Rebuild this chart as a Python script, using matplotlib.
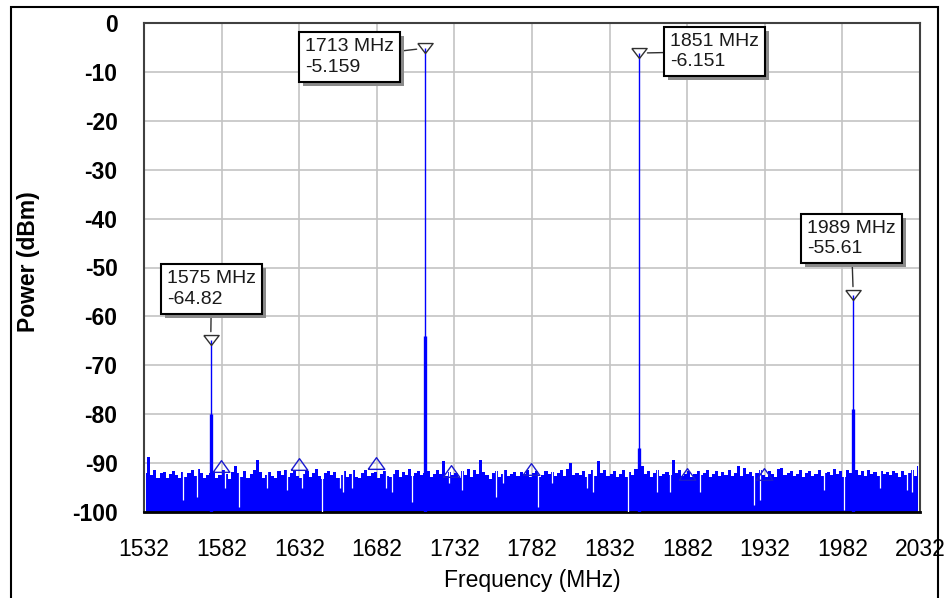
import matplotlib
matplotlib.use("Agg")
import matplotlib.pyplot as plt
import matplotlib.patheffects as pe
from matplotlib.patches import Rectangle
import numpy as np

plt.rcParams['font.family'] = ['Liberation Sans', 'DejaVu Sans']

# Axis ticks
x_ticks = [1532, 1582, 1632, 1682, 1732, 1782, 1832, 1882, 1932, 1982, 2032]
y_ticks = [0, -10, -20, -30, -40, -50, -60, -70, -80, -90, -100]

# Carriers (marked peaks)
carrier_freq = [1575, 1713, 1851, 1989]
carrier_level = [-64.82, -5.159, -6.151, -55.61]
carrier_skirt = [-80, -64, -87, -79]

# Noise floor, read every 2 MHz from 1533 to 2031 MHz
noise_freq = np.arange(1533, 2032, 2)
noise_top = [
    -92.0, -88.8, -92.5, -91.5, -93.0, -92.0, -91.8, -93.0, -92.2, -91.6,
    -92.5, -93.0, -91.9, -92.8, -92.0, -91.5, -92.7, -91.2, -92.0, -93.0,
    -92.5, -92.0, -91.8, -93.0, -92.5, -91.5, -92.2, -93.2, -91.8, -90.5,
    -92.0, -92.8, -91.6, -93.0, -92.3, -91.5, -89.4, -91.9, -93.0, -92.4,
    -91.8, -92.6, -93.1, -91.7, -92.5, -91.4, -92.9, -92.0, -91.5, -92.6,
    -93.0, -92.2, -91.6, -92.8, -92.0, -91.3, -92.7, -93.2, -92.1, -91.7,
    -92.5, -91.8, -93.0, -92.4, -91.6, -92.9, -92.2, -91.5, -92.8, -93.1,
    -92.0, -91.4, -92.7, -92.1, -91.8, -93.0, -92.3, -91.6, -92.6, -92.9,
    -92.2, -91.5, -92.8, -91.9, -92.5, -91.3, -92.6, -92.1, -91.7, -92.4,
    -92.0, -91.6, -92.9, -92.3, -91.5, -92.2, -89.5, -92.6, -91.8, -92.4,
    -92.0, -93.0, -91.7, -92.5, -91.2, -92.8, -91.4, -92.3, -89.4, -91.8,
    -92.5, -93.2, -92.0, -91.6, -92.8, -92.2, -91.5, -92.7, -92.3, -91.8,
    -92.6, -91.9, -92.2, -91.4, -92.8, -92.1, -91.7, -92.9, -92.4, -91.6,
    -92.3, -91.8, -92.7, -92.0, -91.5, -92.6, -91.2, -90.0, -92.4, -92.1,
    -92.5, -91.6, -92.9, -92.2, -91.4, -92.7, -89.5, -92.0, -91.5, -92.6,
    -92.2, -91.7, -92.9, -92.3, -91.5, -92.8, -91.9, -92.4, -91.3, -92.0,
    -90.5, -92.3, -91.6, -92.8, -92.1, -91.5, -92.7, -92.2, -91.8, -92.4,
    -89.4, -92.0, -91.5, -92.7, -92.2, -91.7, -92.9, -92.3, -91.6, -92.5,
    -92.1, -91.5, -92.8, -92.3, -91.7, -92.6, -91.9, -92.4, -91.4, -92.7,
    -92.0, -90.5, -92.6, -91.0, -92.3, -91.8, -92.7, -92.1, -91.5, -92.4,
    -92.8, -91.6, -92.2, -92.9, -91.3, -91.0, -92.5, -92.0, -91.7, -92.6,
    -92.3, -91.5, -92.8, -92.1, -91.6, -92.7, -92.2, -91.4, -92.6, -92.0,
    -91.8, -92.5, -91.3, -92.2, -91.6, -92.8, -91.5, -92.1, -92.0, -91.4,
    -92.4, -91.7, -92.6, -91.5, -92.3, -91.9, -92.7, -91.6, -92.2, -91.8,
    -92.5, -91.6, -92.1, -92.8, -91.7, -92.4, -92.0, -91.5, -92.6, -90.5,
]

# Deep dips in the noise floor
dip_freq = [1557, 1566, 1584, 1593, 1611, 1624, 1634, 1647, 1658, 1660, 1666,
            1688, 1692, 1705, 1728.5, 1737, 1759, 1763, 1786, 1795, 1817.5,
            1821, 1843.8, 1862.5, 1871, 1890, 1925, 1929, 1970, 1983, 2006,
            2023.5, 2027]
dip_level = [-97.5, -97, -95, -99, -95, -95.5, -95, -100, -95, -96, -95,
             -95, -96, -98, -94, -95.5, -97, -94, -99, -94, -95,
             -96, -100, -96, -96, -96, -98.6, -97.5, -95.5, -99.5, -95,
             -95.5, -96]

# Markers on the noise floor
floor_mark_freq = [1581.5, 1632, 1681.5, 1730, 1781.4, 1881.7, 1931.5]
floor_mark_level = [-90.6, -90.2, -90.0, -91.6, -91.2, -92.2, -92.2]

# Label box positions (left edge of text, vertical centre)
label_x = [1546.8, 1635.7, 1870.9, 1959.2]
label_y = [-54.4, -6.95, -5.83, -44.07]

BLUE = "#0000ff"

fig = plt.figure(figsize=(9.46, 5.98), dpi=100)
ax = fig.add_axes([144 / 946, 1 - 512 / 598, 776 / 946, 489 / 598])

ax.set_xlim(1532, 2032)
ax.set_ylim(-100, 0)
ax.set_xticks(x_ticks)
ax.set_yticks(y_ticks)
ax.set_xticklabels([str(t) for t in x_ticks], fontsize=16.5)
ax.set_yticklabels([str(t) for t in y_ticks], fontsize=16.5, fontweight='bold')
ax.tick_params(axis='both', length=0)
ax.tick_params(axis='y', pad=19)
ax.tick_params(axis='x', pad=19)
ax.grid(True, color='#c4c4c4', lw=1.2, zorder=0)
ax.set_axisbelow(True)

for side in ['top', 'left', 'right']:
    ax.spines[side].set_color('#404040')
    ax.spines[side].set_linewidth(1.5)
ax.spines['bottom'].set_color('black')
ax.spines['bottom'].set_linewidth(2)

# noise floor
ax.fill_between(noise_freq, -100, noise_top, step='mid', color=BLUE, lw=0, zorder=2)
ax.vlines(dip_freq, dip_level, -90.3, color='white', lw=0.9, zorder=3)

# carriers
ax.vlines(carrier_freq, -100, carrier_level, color=BLUE, lw=1.0, zorder=4)
ax.vlines(carrier_freq, -100, carrier_skirt, color=BLUE, lw=2.4, zorder=4)

# markers on floor
up_tri = [(-1, -0.7), (1, -0.7), (0, 0.7), (-1, -0.7)]
ax.plot(floor_mark_freq, floor_mark_level, linestyle='none', marker=up_tri, ms=12,
        mfc='none', mec='#1a1ad0', mew=1.0, zorder=5)

# peak markers
down_tri = [(-1, 0.65), (1, 0.65), (0, -0.65), (-1, 0.65)]
ax.plot(carrier_freq, carrier_level, linestyle='none', marker=down_tri, ms=11,
        mfc='none', mec='#303030', mew=1.0, zorder=6)

for f, v, tx, ty in zip(carrier_freq, carrier_level, label_x, label_y):
    ann = ax.annotate(f"{f} MHz\n{v}", xy=(f, v), xytext=(tx, ty),
                      ha='left', va='center', fontsize=14, color='#1a1a1a',
                      linespacing=1.3, zorder=7,
                      bbox=dict(boxstyle='square,pad=0.3', fc='white', ec='black', lw=1.5),
                      arrowprops=dict(arrowstyle='-', color='#303030', lw=1.0,
                                      shrinkA=0, shrinkB=6))
    ann.get_bbox_patch().set_path_effects([
        pe.SimplePatchShadow(offset=(3, -3), shadow_rgbFace='#8a8a8a', alpha=1.0),
        pe.Normal()])

fig.text(29 / 946, 1 - 262 / 598, "Power (dBm)", rotation=90, ha='center', va='center',
         fontsize=16.5, fontweight='bold')
fig.text(532 / 946, 1 - 581 / 598, "Frequency (MHz)", ha='center', va='center', fontsize=16.5)

# outer frame
fig.patches.append(Rectangle((11 / 946, -0.05), 927 / 946, 1.05 - 7 / 598,
                             transform=fig.transFigure, fill=False, ec='black', lw=1.5))

fig.savefig("out.png", dpi=100)
